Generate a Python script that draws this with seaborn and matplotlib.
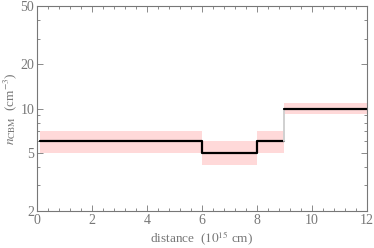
import numpy as np
import pandas as pd
import matplotlib
matplotlib.use("Agg")
import matplotlib.pyplot as plt
import seaborn as sns
from matplotlib.ticker import FixedLocator, MultipleLocator, NullFormatter

# Dados: segmentos de densidade (bordas em 10^15 cm)
edges = [0, 6, 8, 9, 12]
n_cbm = [6.0, 5.0, 6.0, 10.0]
n_lo = [5.0, 4.1, 5.0, 9.2]
n_hi = [7.0, 6.0, 7.0, 10.9]
x_ticks = [0, 2, 4, 6, 8, 10, 12]
y_ticks = [2, 5, 10, 20, 50]

sns.set_style("ticks")
plt.rcParams["font.family"] = ["Liberation Serif", "DejaVu Serif"]
plt.rcParams["mathtext.fontset"] = "stix"

gray = "#777777"
fig = plt.figure(figsize=(3.74, 2.48), dpi=100)
ax = fig.add_axes([0.099, 0.149, 0.882, 0.827])

# faixas de incerteza
for i in range(len(n_cbm)):
    x0 = edges[i] + (0.1 if i == 0 else 0.0)
    ax.fill_between([x0, edges[i + 1]], n_lo[i], n_hi[i],
                    color="#ffd9d9", lw=0)

# linha em degraus
xs, ys = [], []
for i in range(3):
    xs += [edges[i] + (0.1 if i == 0 else 0.0), edges[i + 1]]
    ys += [n_cbm[i], n_cbm[i]]
df1 = pd.DataFrame({"x": xs, "y": ys})
sns.lineplot(data=df1, x="x", y="y", color="black", lw=1.6, ax=ax,
             estimator=None, sort=False)
df2 = pd.DataFrame({"x": [edges[3], edges[3]], "y": [n_cbm[2], n_cbm[3]]})
sns.lineplot(data=df2, x="x", y="y", color="#d0d0d0", lw=1.4, ax=ax,
             estimator=None, sort=False)
df3 = pd.DataFrame({"x": [edges[3], edges[4]], "y": [n_cbm[3], n_cbm[3]]})
sns.lineplot(data=df3, x="x", y="y", color="black", lw=1.6, ax=ax,
             estimator=None, sort=False)

ax.set_yscale("log")
ax.set_xlim(0, 12)
ax.set_ylim(2, 50)
ax.xaxis.set_major_locator(FixedLocator(x_ticks))
ax.xaxis.set_minor_locator(MultipleLocator(0.4))
ax.yaxis.set_major_locator(FixedLocator(y_ticks))
ax.set_yticklabels([str(v) for v in y_ticks])
ax.yaxis.set_minor_locator(FixedLocator([3, 4, 6, 7, 8, 9, 30, 40]))
ax.yaxis.set_minor_formatter(NullFormatter())

ax.tick_params(which="both", direction="in", top=True, right=True,
               colors=gray, labelcolor=gray, labelsize=10, width=0.6, pad=2)
ax.tick_params(which="major", length=4)
ax.tick_params(which="minor", length=2)
for s in ax.spines.values():
    s.set_color(gray)
    s.set_linewidth(0.8)

ax.set_xlabel("distance  ($10^{15}$ cm)", color=gray, fontsize=9.5, labelpad=2)
ax.set_ylabel(r"$n_{\rm CBM}$  (cm$^{-3}$)", color=gray, fontsize=9.5, labelpad=1)

fig.savefig("out.png", dpi=100)
